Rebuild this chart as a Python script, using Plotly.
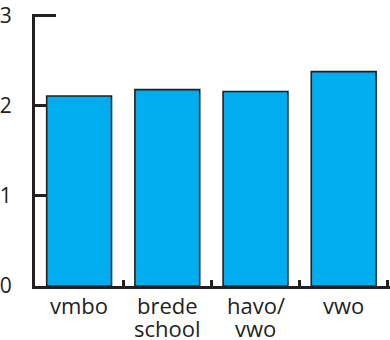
import plotly.graph_objects as go

categories = ["vmbo", "brede<br>school", "havo/<br>vwo", "vwo"]
values = [2.11, 2.18, 2.16, 2.38]
y_ticks = [0, 1, 2, 3]

axis_color = "#231f20"
bar_color = "#00aeef"
font_family = "Open Sans"

fig = go.Figure(go.Bar(
    x=categories, y=values,
    marker=dict(color=bar_color, line=dict(color=axis_color, width=1.6)),
    width=0.735,
))

# category labels: one annotation per line for tight line spacing
annotations = []
for cat in categories:
    for j, line in enumerate(cat.split("<br>")):
        annotations.append(dict(
            x=cat, xref="x", y=0, yref="paper", yanchor="top", xanchor="center",
            text=line, showarrow=False, yshift=-(6 + 23 * j),
            height=21, valign="middle",
            font=dict(family=font_family, size=22, color=axis_color),
        ))

fig.update_layout(
    width=390, height=340,
    margin=dict(l=35, r=0, t=14, b=54),
    plot_bgcolor="white", paper_bgcolor="white",
    showlegend=False,
    font=dict(family=font_family, size=21, color=axis_color),
    annotations=annotations,
)
fig.update_xaxes(
    type="category", range=[-0.5, 3.525], automargin=False,
    showline=True, linecolor=axis_color, linewidth=3,
    tickson="boundaries", ticks="inside", ticklen=6, tickwidth=3, tickcolor=axis_color,
    showgrid=False, zeroline=False, showticklabels=False,
)
fig.update_yaxes(
    range=[0, 3.02], tickvals=y_ticks, automargin=False,
    showline=True, linecolor=axis_color, linewidth=3,
    ticks="inside", ticklen=21, tickwidth=3, tickcolor=axis_color,
    showgrid=False, zeroline=False, layer="below traces",
    tickfont=dict(size=21), ticklabelstandoff=16,
)
fig.write_html(
    "out.html",
    config={"displayModeBar": False},
    post_script="document.body.style.margin='0';document.body.style.overflow='hidden';",
)
